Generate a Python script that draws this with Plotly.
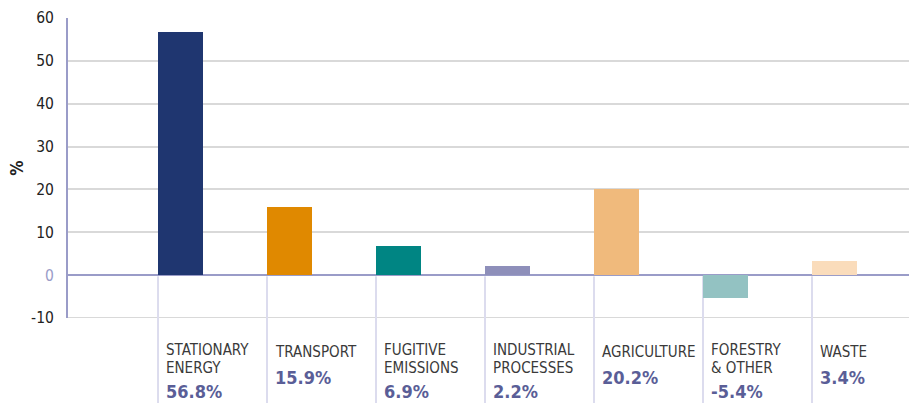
import plotly.graph_objects as go

categories = ["STATIONARY<br>ENERGY", "TRANSPORT", "FUGITIVE<br>EMISSIONS",
              "INDUSTRIAL<br>PROCESSES", "AGRICULTURE", "FORESTRY<br>& OTHER", "WASTE"]
values = [56.8, 15.9, 6.9, 2.2, 20.2, -5.4, 3.4]
value_labels = ["56.8%", "15.9%", "6.9%", "2.2%", "20.2%", "-5.4%", "3.4%"]
colors = ["#1f3670", "#e08900", "#008583", "#8e8fba", "#f0ba7c", "#93c2c2", "#fadcbb"]
y_ticks = [-10, 0, 10, 20, 30, 40, 50, 60]

FONT = "Liberation Sans Narrow, DejaVu Sans Condensed, Roboto, Arial, sans-serif"
W, H = 909, 403
T, B, L, R = 18, 85, 68, 0
YMIN, YMAX = -10, 60
plot_h = H - T - B
bottom_px = H - B

def py(p):
    return (bottom_px - p) / plot_h

x_idx = list(range(len(categories)))

fig = go.Figure()
fig.add_trace(go.Bar(
    x=x_idx, y=values, width=0.41, offset=0,
    marker=dict(color=colors, line=dict(width=0)),
    hoverinfo="skip", showlegend=False,
))

# bottom gridline (at range edge)
fig.add_shape(type="line", xref="paper", yref="y", x0=0, x1=1, y0=YMIN, y1=YMIN,
              line=dict(color="#d9d9d9", width=2), layer="below")

# separators from zero line down into the label area
zero_paper = (0 - YMIN) / (YMAX - YMIN)
for i in x_idx:
    fig.add_shape(type="line", xref="x", yref="paper", x0=i, x1=i,
                  y0=zero_paper - 0.004, y1=py(H + 2),
                  line=dict(color="#dcdcee", width=2), layer="below")

# category labels
line_pos = {1: ([352], 377), 2: ([349.5, 368], 391)}
for i, (name, vl) in enumerate(zip(categories, value_labels)):
    lines = name.split("<br>")
    ys, yv = line_pos[len(lines)]
    for txt, yp in zip(lines, ys):
        fig.add_annotation(x=i, xref="x", y=py(yp), yref="paper", text=txt,
                           showarrow=False, xanchor="left", yanchor="middle",
                           xshift=6, font=dict(family=FONT, size=15, color="#3a3a3a"))
    fig.add_annotation(x=i, xref="x", y=py(yv), yref="paper", text="<b>" + vl + "</b>",
                       showarrow=False, xanchor="left", yanchor="middle",
                       xshift=6, font=dict(family=FONT, size=18, color="#5a5e97"))

ticktext = [("<span style='color:#9a9cc8'>0</span>" if v == 0 else str(v)) for v in y_ticks]

fig.update_layout(
    width=W, height=H,
    margin=dict(t=T, b=B, l=L, r=R, pad=0),
    paper_bgcolor="white", plot_bgcolor="white",
    font=dict(family=FONT, size=16, color="#222222"),
    bargap=0,
    xaxis=dict(range=[-0.826, 6.89], showticklabels=False, showgrid=False,
               zeroline=False, showline=False, ticks="", fixedrange=True),
    yaxis=dict(range=[YMIN, YMAX], tickvals=y_ticks, ticktext=ticktext,
               showgrid=True, gridcolor="#d9d9d9", gridwidth=2,
               zeroline=True, zerolinecolor="#9a9cc8", zerolinewidth=2,
               showline=True, linecolor="#9a9cc8", linewidth=2,
               ticks="", ticklabelstandoff=9,
               tickfont=dict(family=FONT, size=15.5, color="#222222"),
               title=dict(text="<b>%</b>", standoff=3,
                          font=dict(family=FONT, size=17, color="#222222"))),
)

fig.write_html("out.html")
